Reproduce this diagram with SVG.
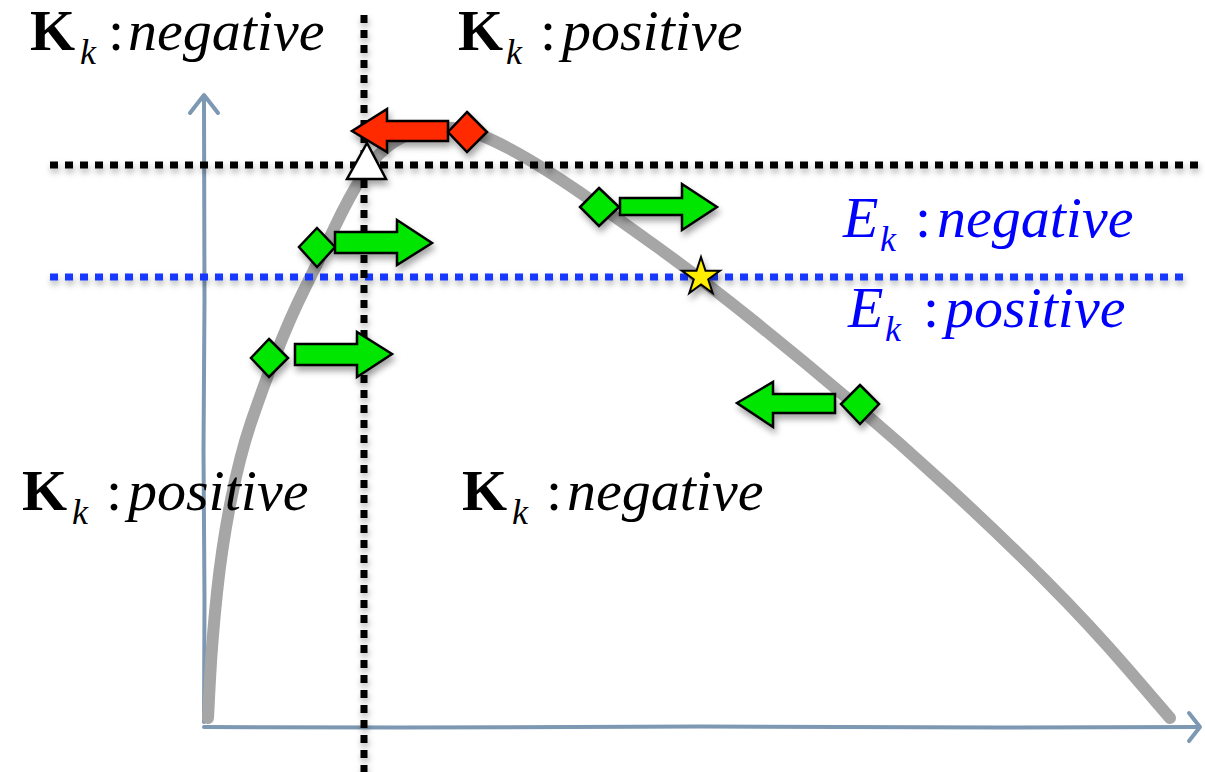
<svg xmlns="http://www.w3.org/2000/svg" width="1205" height="772" viewBox="0 0 1205 772">
<defs>
<filter id="sh" x="-30%" y="-30%" width="160%" height="180%">
<feDropShadow dx="2" dy="5" stdDeviation="3" flood-color="#000" flood-opacity="0.35"/>
</filter>
<filter id="shl" filterUnits="userSpaceOnUse" x="0" y="0" width="1205" height="772">
<feDropShadow dx="1" dy="4" stdDeviation="3" flood-color="#000" flood-opacity="0.3"/>
</filter>
</defs>
<rect width="1205" height="772" fill="#fff"/>

<g id="axes" fill="none" stroke="#7d98b2" stroke-width="4" stroke-linecap="round" stroke-linejoin="round">
<path d="M204,722 L204.5,600 L203.5,450 L204.5,300 L204,100"/>
<path d="M190,113 L204,95 L218,113"/>
<path d="M204,727 L400,727.5 L700,726.5 L1000,727.5 L1198,727"/>
<path d="M1189,713 L1200,727 L1189,741"/>
</g>

<g id="curve">
<path d="M208,718 L210,679 Q212,640 217,592.5 Q222,545 231,500 Q240,455 251,422.5 Q262,390 276,354 Q290,318 305,288 Q320,258 335,226.5 Q350,195 364,173.5 Q378,152 394,142 Q410,132 427.5,129 Q445,126 462.5,129.5 Q480,133 510,149 Q540,165 580,192.5 Q620,220 660,249 Q700,278 750,318 Q800,358 850,400.5 Q900,443 950,489 Q1000,535 1045,580 Q1090,625 1130,671.5 L1170,718" fill="none" stroke="#a6a6a6" stroke-width="12" stroke-linecap="round" stroke-linejoin="round"/>
</g>

<g id="dividers" filter="url(#shl)" fill="none" stroke-width="7" stroke-dasharray="8 7">
<line stroke="#000" x1="50" y1="165" x2="1205" y2="165"/>
<line stroke="#1438ff" x1="50" y1="277" x2="1185" y2="277"/>
<line stroke="#000" x1="364" y1="15" x2="364" y2="772"/>
</g>

<text id="tl-K" x="30" y="50" font-size="58" font-family="Liberation Serif" font-weight="bold">K</text>
<text id="tl-k" x="80" y="64" font-size="36" font-family="Liberation Serif" font-style="italic">k</text>
<text id="tl-c" x="108" y="50" font-size="58" font-family="Liberation Serif">:</text>
<text id="tl-w" x="128" y="50" font-size="58" font-family="Liberation Serif" font-style="italic">negative</text>

<text id="tr-K" x="458" y="50" font-size="58" font-family="Liberation Serif" font-weight="bold">K</text>
<text id="tr-k" x="506" y="64" font-size="36" font-family="Liberation Serif" font-style="italic">k</text>
<text id="tr-c" x="540" y="50" font-size="58" font-family="Liberation Serif">:</text>
<text id="tr-w" x="562" y="50" font-size="58" font-family="Liberation Serif" font-style="italic">positive</text>

<text id="bl-K" x="22" y="510" font-size="58" font-family="Liberation Serif" font-weight="bold">K</text>
<text id="bl-k" x="72" y="524" font-size="36" font-family="Liberation Serif" font-style="italic">k</text>
<text id="bl-c" x="106" y="510" font-size="58" font-family="Liberation Serif">:</text>
<text id="bl-w" x="128" y="510" font-size="58" font-family="Liberation Serif" font-style="italic">positive</text>

<text id="bm-K" x="462" y="510" font-size="58" font-family="Liberation Serif" font-weight="bold">K</text>
<text id="bm-k" x="512" y="524" font-size="36" font-family="Liberation Serif" font-style="italic">k</text>
<text id="bm-c" x="546" y="510" font-size="58" font-family="Liberation Serif">:</text>
<text id="bm-w" x="567" y="510" font-size="58" font-family="Liberation Serif" font-style="italic">negative</text>

<text id="en-E" x="843" y="237" font-size="58" font-family="Liberation Serif" font-style="italic" fill="#0000ff">E</text>
<text id="en-k" x="880" y="251" font-size="36" font-family="Liberation Serif" font-style="italic" fill="#0000ff">k</text>
<text id="en-c" x="915" y="237" font-size="58" font-family="Liberation Serif" fill="#0000ff">:</text>
<text id="en-w" x="937" y="237" font-size="58" font-family="Liberation Serif" font-style="italic" fill="#0000ff">negative</text>

<text id="ep-E" x="848" y="327" font-size="58" font-family="Liberation Serif" font-style="italic" fill="#0000ff">E</text>
<text id="ep-k" x="885" y="341" font-size="36" font-family="Liberation Serif" font-style="italic" fill="#0000ff">k</text>
<text id="ep-c" x="923" y="327" font-size="58" font-family="Liberation Serif" fill="#0000ff">:</text>
<text id="ep-w" x="945" y="327" font-size="58" font-family="Liberation Serif" font-style="italic" fill="#0000ff">positive</text>

<g id="shapes" stroke="#000" stroke-width="2.5">
<g id="red-move" filter="url(#sh)" fill="#ff2a00">
<polygon points="352,131 387,109 387,121 448,121 448,141 387,141 387,152"/>
<polygon points="467,112 487,132 467,152 448,132"/>
</g>
<g id="triangle" filter="url(#sh)" fill="#fff">
<polygon points="367,143 386,179 347,179"/>
</g>
<g id="green-1" filter="url(#sh)" fill="#00e600">
<polygon points="599,188 619,207 599,226 580,207"/>
<polygon points="620,198 682,198 682,184 717,207 682,230 682,215 620,215"/>
</g>
<g id="green-2" filter="url(#sh)" fill="#00e600">
<polygon points="317,228 335,247 317,267 299,247"/>
<polygon points="335,232 397,232 397,220 432,243 397,265 397,253 335,253"/>
</g>
<g id="green-3" filter="url(#sh)" fill="#00e600">
<polygon points="269,339 288,358 269,377 251,358"/>
<polygon points="295,344 357,344 357,332 392,354 357,377 357,365 295,365"/>
</g>
<g id="green-4" filter="url(#sh)" fill="#00e600">
<polygon points="860,385 879,404 860,424 841,404"/>
<polygon points="835,394 773,394 773,382 737,403 773,427 773,413 835,413"/>
</g>
<g id="star" filter="url(#sh)" fill="#ffee00">
<polygon stroke-width="2" points="701,257 705.5,270.8 719.9,270.8 708.2,279.3 712.7,293 701,284.5 689.3,293 693.8,279.3 682.1,270.8 696.5,270.8"/>
</g>
</g>
</svg>
